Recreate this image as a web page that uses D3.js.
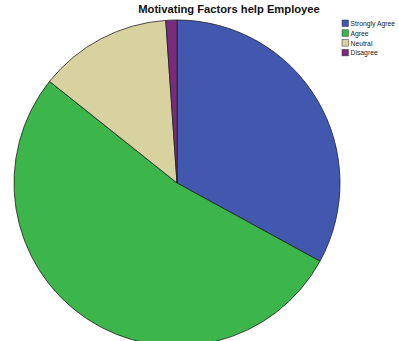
<!DOCTYPE html>
<html>
<head>
<meta charset="utf-8">
<script src="https://cdn.jsdelivr.net/npm/d3@7"></script>
<style>
  html, body { margin: 0; padding: 0; background: #fff; }
  svg { display: block; }
</style>
</head>
<body>
<svg id="chart" width="399" height="341"></svg>
<script>
// Survey responses: "Motivating Factors help Employee"
const categories = ["Strongly Agree", "Agree", "Neutral", "Disagree"];
const counts = [30, 48, 12, 1];
const colors = ["#4257ae", "#3cb54a", "#d8d2a0", "#7a2a7c"];

const svg = d3.select("#chart");
const cx = 177, cy = 183, radius = 163;

svg.append("text")
  .attr("x", 229).attr("y", 13)
  .attr("text-anchor", "middle")
  .attr("font-family", "Liberation Sans, Arial, sans-serif")
  .attr("font-weight", "bold")
  .attr("font-size", 11.2)
  .attr("fill", "#111")
  .text("Motivating Factors help Employee");

const pie = d3.pie().sort(null).value(d => d.value);
const arc = d3.arc().innerRadius(0).outerRadius(radius);
const data = categories.map((c, i) => ({ name: c, value: counts[i], color: colors[i] }));

const g = svg.append("g").attr("transform", `translate(${cx},${cy})`);
g.selectAll("path")
  .data(pie(data))
  .join("path")
  .attr("d", arc)
  .attr("fill", d => d.data.color)
  .attr("stroke", "#222")
  .attr("stroke-width", 0.8);

// Legend
const legend = svg.append("g").attr("transform", "translate(342,20)");
const items = legend.selectAll("g")
  .data(data)
  .join("g")
  .attr("transform", (d, i) => `translate(0,${i * 9.8})`);
items.append("rect")
  .attr("width", 6.5).attr("height", 6.5)
  .attr("fill", d => d.color)
  .attr("stroke", "#333").attr("stroke-width", 0.5);
items.append("text")
  .attr("x", 8.5).attr("y", 6)
  .attr("font-family", "Liberation Sans, Arial, sans-serif")
  .attr("font-size", 6.8)
  .attr("fill", "#222")
  .text(d => d.name);
</script>
</body>
</html>
